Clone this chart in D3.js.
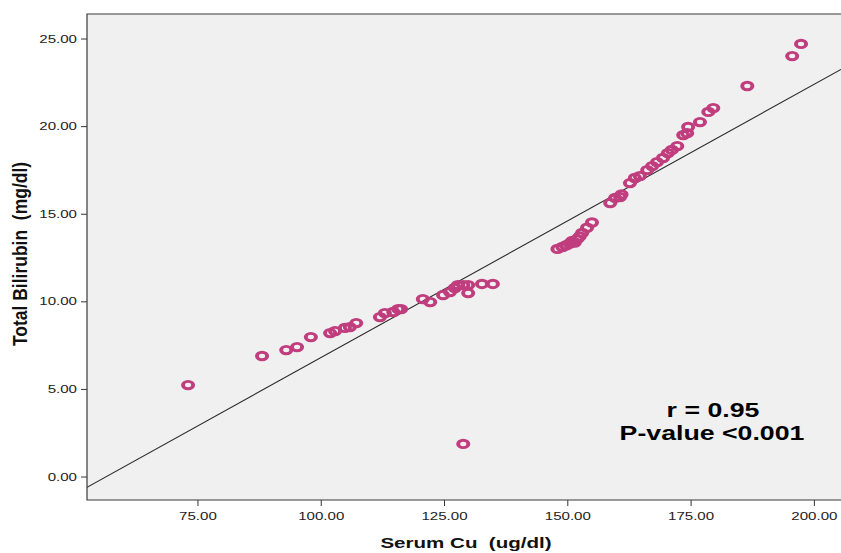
<!DOCTYPE html>
<html>
<head>
<meta charset="utf-8">
<script src="https://cdn.jsdelivr.net/npm/d3@7/dist/d3.min.js"></script>
<style>
  html, body { margin: 0; padding: 0; background: #ffffff; }
  svg { display: block; }
  text { white-space: pre; }
</style>
</head>
<body>
<svg id="chart" width="841" height="553"></svg>
<script>
// Serum Cu (ug/dl) values
const serumCu = [
  73.1, 88.1, 93.0, 95.2, 98.0,
  101.9, 102.9, 104.9, 105.9, 107.2,
  112.0, 113.0, 114.7, 115.7, 116.3,
  120.7, 122.2, 124.8, 126.2, 127.2, 127.8, 128.9, 129.9, 129.9, 132.7, 134.9,
  128.9,
  148.0, 149.0, 149.8, 150.5, 151.0, 151.5, 152.0, 152.5, 153.0, 154.0, 155.0,
  158.7, 159.7, 160.7, 161.0,
  162.7, 163.7, 164.7, 166.2, 167.2, 168.2, 169.4, 170.4, 171.2, 172.3,
  173.5, 174.3, 174.5, 176.9, 178.6, 179.6,
  186.5, 195.6, 197.4
];
// Total Bilirubin (mg/dl) values
const totalBilirubin = [
  5.22, 6.88, 7.22, 7.39, 7.96,
  8.19, 8.30, 8.48, 8.53, 8.76,
  9.10, 9.33, 9.39, 9.56, 9.56,
  10.13, 9.96, 10.36, 10.53, 10.76, 10.93, 10.93, 10.93, 10.47, 10.99, 10.99,
  1.86,
  12.99, 13.10, 13.20, 13.30, 13.45, 13.35, 13.55, 13.70, 13.90, 14.20, 14.50,
  15.61, 15.90, 15.95, 16.10,
  16.75, 17.04, 17.15, 17.49, 17.72, 17.95, 18.18, 18.46, 18.64, 18.86,
  19.49, 19.60, 19.95, 20.23, 20.81, 21.03,
  22.29, 24.00, 24.69
];
const xTicks = [75, 100, 125, 150, 175, 200];
const yTicks = [0, 5, 10, 15, 20, 25];
// fit line: intercept, slope
const fitLine = [-8.82, 0.156];
const statLabels = ["r = 0.95", "P-value <0.001"];

const svg = d3.select("#chart");
const pL = 87, pT = 14, pR = 841, pB = 500;
const sx = 1.37; // horizontal stretch of the original figure
const FONT = "Liberation Sans, Arial, sans-serif";

const x = d3.scaleLinear().domain([52.6, 205.5]).range([pL, pR]);
const y = d3.scaleLinear().domain([-1.34, 26.4]).range([pB, pT]);

// plot background
svg.append("rect")
  .attr("x", pL).attr("y", pT)
  .attr("width", pR - pL).attr("height", pB - pT)
  .attr("fill", "#f0f0f0");

svg.append("clipPath").attr("id", "clip")
  .append("rect").attr("x", pL).attr("y", pT)
  .attr("width", pR - pL).attr("height", pB - pT);

// fit line
const xd = x.domain();
svg.append("line")
  .attr("clip-path", "url(#clip)")
  .attr("x1", x(xd[0])).attr("y1", y(fitLine[0] + fitLine[1] * xd[0]))
  .attr("x2", x(xd[1])).attr("y2", y(fitLine[0] + fitLine[1] * xd[1]))
  .attr("stroke", "#2a2a2a").attr("stroke-width", 1.1);

// points (rings, stretched horizontally like the original)
const pts = serumCu.map((v, i) => ({ cu: v, bil: totalBilirubin[i] }));
svg.append("g").selectAll("circle").data(pts).enter().append("circle")
  .attr("transform", d => `translate(${x(d.cu)},${y(d.bil)}) scale(${sx},1)`)
  .attr("r", 3.7)
  .attr("fill", "none")
  .attr("stroke", "#c03d7e")
  .attr("stroke-width", 2.9);

// frame
svg.append("path")
  .attr("d", `M${pR},${pT}H${pL}V${pB}H${pR}`)
  .attr("fill", "none").attr("stroke", "#3a3a3a").attr("stroke-width", 1.2);

// axes
const xAxis = d3.axisBottom(x).tickValues(xTicks).tickFormat(d3.format(".2f"))
  .tickSize(6).tickPadding(4).tickSizeOuter(0);
const gx = svg.append("g").attr("transform", `translate(0,${pB})`).call(xAxis);
gx.select(".domain").remove();
gx.selectAll("line").attr("stroke", "#333");
gx.selectAll("text").attr("font-family", FONT)
  .attr("font-size", 11).attr("fill", "#222").attr("dy", "0.9em")
  .attr("transform", `scale(${sx},1)`);

const yAxis = d3.axisLeft(y).tickValues(yTicks).tickFormat(d3.format(".2f"))
  .tickSize(6).tickPadding(4).tickSizeOuter(0);
const gy = svg.append("g").attr("transform", `translate(${pL},0)`).call(yAxis);
gy.select(".domain").remove();
gy.selectAll("line").attr("stroke", "#333");
gy.selectAll("text").attr("font-family", FONT)
  .attr("font-size", 11).attr("fill", "#222")
  .attr("x", -10 / sx)
  .attr("transform", `scale(${sx},1)`);

// axis titles
svg.append("text")
  .attr("transform", `translate(466,548) scale(${sx},1)`)
  .attr("text-anchor", "middle")
  .attr("font-family", FONT)
  .attr("font-weight", "bold").attr("font-size", 15).attr("fill", "#111")
  .text("Serum Cu  (ug/dl)");

svg.append("text")
  .attr("transform", `translate(27,254) scale(1.15,1) rotate(-90)`)
  .attr("text-anchor", "middle")
  .attr("font-family", FONT)
  .attr("font-weight", "bold").attr("font-size", 17.5).attr("fill", "#111")
  .text("Total Bilirubin  (mg/dl)");

// stats annotation
svg.append("text")
  .attr("transform", `translate(713,417) scale(${sx},1)`)
  .attr("text-anchor", "middle")
  .attr("font-family", FONT)
  .attr("font-weight", "bold").attr("font-size", 19.5).attr("fill", "#000")
  .text(statLabels[0]);
svg.append("text")
  .attr("transform", `translate(712,440) scale(${sx},1)`)
  .attr("text-anchor", "middle")
  .attr("font-family", FONT)
  .attr("font-weight", "bold").attr("font-size", 19.5).attr("fill", "#000")
  .text(statLabels[1]);
</script>
</body>
</html>
